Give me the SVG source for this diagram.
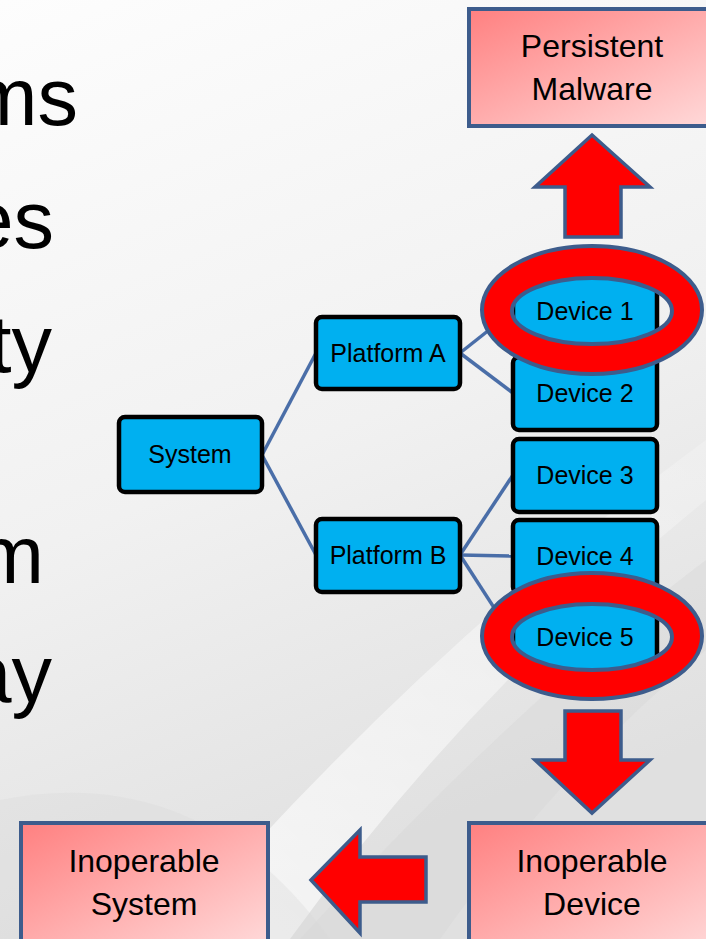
<svg xmlns="http://www.w3.org/2000/svg" width="706" height="939" viewBox="0 0 706 939">
<defs>
<linearGradient id="bg" x1="0" y1="0" x2="0.3" y2="1">
<stop offset="0" stop-color="#fdfdfd"/>
<stop offset="0.55" stop-color="#f1f1f1"/>
<stop offset="1" stop-color="#e0e0e0"/>
</linearGradient>
<linearGradient id="pink" x1="0" y1="0" x2="1" y2="1">
<stop offset="0" stop-color="#ff8080"/>
<stop offset="1" stop-color="#ffdcdc"/>
</linearGradient>
<linearGradient id="sw" x1="0" y1="1" x2="1" y2="0">
<stop offset="0" stop-color="#ffffff" stop-opacity="0.7"/>
<stop offset="1" stop-color="#ffffff" stop-opacity="0.2"/>
</linearGradient>
<style>
.bx{fill:#00b0f0;stroke:#000;stroke-width:4.5}
.pk{fill:url(#pink);stroke:#3d5c8c;stroke-width:4}
.lb{font-family:"Liberation Sans",Arial,sans-serif;font-size:25px;fill:#000;text-anchor:middle}
.pl{font-family:"Liberation Sans",Arial,sans-serif;font-size:32px;fill:#000;text-anchor:middle}
.big{font-family:"Liberation Sans",Arial,sans-serif;font-size:81px;fill:#000;text-anchor:end}
.ar{fill:#ff0000;stroke:#3d5c8c;stroke-width:3.5;stroke-linejoin:miter}
.ring{fill:#ff0000;stroke:#3d5c8c;stroke-width:4;fill-rule:evenodd}
.cn{stroke:#4a6ea8;stroke-width:3.5;fill:none}
</style>
</defs>
<rect width="706" height="939" fill="url(#bg)"/>
<path d="M170,939 Q420,650 706,440 L706,500 Q470,690 290,939 Z" fill="url(#sw)"/>
<path d="M300,939 Q520,700 706,560 L706,650 Q560,770 440,939 Z" fill="#d4d4d4" opacity="0.35"/>
<path d="M0,800 Q200,760 330,939 L0,939 Z" fill="#d8d8d8" opacity="0.3"/>

<g id="bullets">
<text class="big" x="78" y="125">ms</text>
<text class="big" x="54" y="248">es</text>
<text class="big" x="52" y="372">ty</text>
<text class="big" x="44" y="583">m</text>
<text class="big" x="52" y="702">ay</text>
</g>

<g id="connectors">
<line class="cn" x1="262" y1="455" x2="316" y2="353"/>
<line class="cn" x1="262" y1="455" x2="316" y2="555"/>
<line class="cn" x1="460" y1="353" x2="513" y2="311"/>
<line class="cn" x1="460" y1="353" x2="513" y2="393"/>
<line class="cn" x1="460" y1="555" x2="513" y2="475"/>
<line class="cn" x1="460" y1="555" x2="513" y2="556"/>
<line class="cn" x1="460" y1="555" x2="513" y2="637"/>
</g>

<g id="system"><rect class="bx" x="119" y="417" width="143" height="75" rx="6"/><text class="lb" x="190" y="463">System</text></g>
<g id="platformA"><rect class="bx" x="316" y="317" width="144" height="72" rx="6"/><text class="lb" x="388" y="362">Platform A</text></g>
<g id="platformB"><rect class="bx" x="316" y="519" width="144" height="73" rx="6"/><text class="lb" x="388" y="564">Platform B</text></g>
<g id="device1"><rect class="bx" x="513" y="275" width="144" height="73" rx="6"/><text class="lb" x="585" y="320">Device 1</text></g>
<g id="device2"><rect class="bx" x="513" y="357" width="144" height="73" rx="6"/><text class="lb" x="585" y="402">Device 2</text></g>
<g id="device3"><rect class="bx" x="513" y="439" width="144" height="73" rx="6"/><text class="lb" x="585" y="484">Device 3</text></g>
<g id="device4"><rect class="bx" x="513" y="520" width="144" height="73" rx="6"/><text class="lb" x="585" y="565">Device 4</text></g>
<g id="device5"><rect class="bx" x="513" y="601" width="144" height="73" rx="6"/><text class="lb" x="585" y="646">Device 5</text></g>

<g id="ring1"><path class="ring" d="M482,310 a110,64 0 1,0 220,0 a110,64 0 1,0 -220,0 Z M512,311 a80,33 0 1,0 160,0 a80,33 0 1,0 -160,0 Z"/></g>
<g id="ring2"><path class="ring" d="M482,636 a110,63 0 1,0 220,0 a110,63 0 1,0 -220,0 Z M512,637 a80,33 0 1,0 160,0 a80,33 0 1,0 -160,0 Z"/></g>

<g id="persistentMalware"><rect class="pk" x="469" y="9" width="260" height="117"/><text class="pl" x="592" y="57">Persistent</text><text class="pl" x="592" y="100">Malware</text></g>
<g id="inoperableDevice"><rect class="pk" x="469" y="823" width="260" height="130"/><text class="pl" x="592" y="872">Inoperable</text><text class="pl" x="592" y="915">Device</text></g>
<g id="inoperableSystem"><rect class="pk" x="21" y="823" width="247" height="130"/><text class="pl" x="144" y="872">Inoperable</text><text class="pl" x="144" y="915">System</text></g>

<g id="arrows">
<path class="ar" d="M592,135 L650,187 L621,187 L621,237 L565,237 L565,187 L535,187 Z"/>
<path class="ar" d="M565,711 L621,711 L621,760 L650,760 L592,813 L535,760 L565,760 Z"/>
<path class="ar" d="M311,880 L360,830 L360,857 L426,857 L426,902 L360,902 L360,933 Z"/>
</g>
</svg>
